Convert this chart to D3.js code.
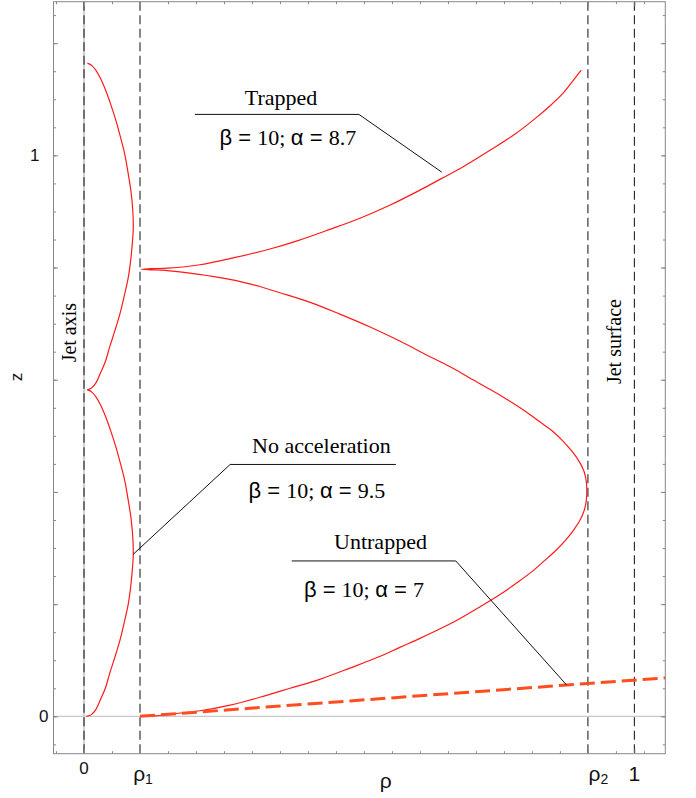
<!DOCTYPE html>
<html>
<head>
<meta charset="utf-8">
<style>
body { margin: 0; background: #fff; }
svg { display: block; }
.serif { font-family: "Liberation Serif", "Times New Roman", serif; }
.sans { font-family: "Liberation Sans", Arial, sans-serif; }
</style>
</head>
<body>
<div id="plot"></div>

<script src="https://d3js.org/d3.v7.min.js"></script>
<script>
// ---- data (rho, z) ----
var xTickVals = [0, 0.1, 0.9, 0.983];
var xTickLabels = ["0", "ρ", "ρ", "1"];
var xTickSubs = ["", "1", "2", ""];
var yTickVals = [0, 1];
var yTickLabels = ["0", "1"];
var yMajorVals = [0, 0.2, 0.4, 0.6, 0.8, 1.0, 1.2];

// dashed guides: jet axis, rho1, rho2, jet surface
var guideRho = [0, 0.1, 0.9, 0.983];

// no acceleration (beta = 10, alpha = 9.5)
var noAccRho = [0.004, 0.009, 0.014, 0.021, 0.029, 0.038, 0.046, 0.055, 0.064, 0.072, 0.079, 0.083, 0.086, 0.088,
  0.087, 0.084, 0.079, 0.073, 0.065, 0.057, 0.048, 0.039, 0.030, 0.021, 0.014, 0.009, 0.006,
  0.009, 0.014, 0.021, 0.029, 0.038, 0.046, 0.055, 0.064, 0.072, 0.079, 0.083, 0.086, 0.088,
  0.087, 0.084, 0.079, 0.073, 0.065, 0.057, 0.048, 0.039, 0.030, 0.021, 0.014, 0.009, 0.006];
var noAccZ = [0, 0.001, 0.004, 0.012, 0.029, 0.050, 0.077, 0.105, 0.135, 0.168, 0.200, 0.228, 0.258, 0.289,
  0.321, 0.353, 0.385, 0.419, 0.451, 0.480, 0.508, 0.533, 0.554, 0.570, 0.578, 0.581, 0.582,
  0.583, 0.586, 0.594, 0.611, 0.632, 0.659, 0.687, 0.717, 0.750, 0.782, 0.810, 0.840, 0.871,
  0.903, 0.935, 0.967, 1.001, 1.033, 1.062, 1.090, 1.115, 1.136, 1.152, 1.160, 1.163, 1.164];

// trapped (beta = 10, alpha = 8.7)
var trapRho = [0.1, 0.127, 0.154, 0.207, 0.261, 0.314, 0.368, 0.421, 0.475, 0.529, 0.564, 0.600, 0.636, 0.671,
  0.707, 0.743, 0.773, 0.800, 0.823, 0.843, 0.861, 0.875, 0.886, 0.893, 0.897, 0.898,
  0.897, 0.893, 0.884, 0.871, 0.855, 0.836, 0.814, 0.788, 0.757, 0.725, 0.689, 0.654, 0.618, 0.564,
  0.511, 0.457, 0.404, 0.350, 0.296, 0.243, 0.189, 0.145, 0.118, 0.102,
  0.118, 0.150, 0.207, 0.270, 0.332, 0.382, 0.439, 0.493, 0.546, 0.600, 0.639, 0.671, 0.725, 0.770,
  0.805, 0.832, 0.854, 0.871, 0.888];
var trapZ = [0, 0.001, 0.004, 0.010, 0.020, 0.034, 0.050, 0.066, 0.086, 0.107, 0.123, 0.139, 0.156, 0.174,
  0.195, 0.217, 0.238, 0.258, 0.278, 0.296, 0.315, 0.333, 0.350, 0.366, 0.384, 0.403,
  0.419, 0.437, 0.455, 0.473, 0.491, 0.509, 0.525, 0.544, 0.564, 0.583, 0.603, 0.623, 0.641, 0.669,
  0.694, 0.717, 0.738, 0.755, 0.771, 0.782, 0.790, 0.795, 0.796, 0.797,
  0.798, 0.799, 0.805, 0.818, 0.833, 0.848, 0.868, 0.888, 0.911, 0.938, 0.959, 0.976, 1.009, 1.038,
  1.065, 1.088, 1.109, 1.130, 1.152];

// untrapped (beta = 10, alpha = 7)
var untrapRho = [0.1, 0.475, 0.862, 1.04];
var untrapZ = [0, 0.0275, 0.0558, 0.0688];

var calloutTitles = ["Trapped", "No acceleration", "Untrapped"];
var calloutBeta = [10, 10, 10];
var calloutAlpha = ["8.7", "9.5", "7"];

// ---- layout ----
var W = 696, H = 798;
var margin = {top: 1.7, left: 53.5, right: 30.7, bottom: 44.3};

var x = d3.scaleLinear().domain([-0.0545, 1.0382]).range([margin.left, W - margin.right]);
var y = d3.scaleLinear().domain([-0.0666, 1.2739]).range([H - margin.bottom, margin.top]);

var svg = d3.select("#plot").append("svg")
  .attr("width", W)
  .attr("height", H)
  .style("background", "white");

svg.append("clipPath").attr("id", "clip")
  .append("rect")
  .attr("x", x.range()[0]).attr("y", y.range()[1])
  .attr("width", x.range()[1] - x.range()[0])
  .attr("height", y.range()[0] - y.range()[1]);

var plot = svg.append("g").attr("clip-path", "url(#clip)");

// light grey origin axes
plot.append("line")
  .attr("x1", x.range()[0]).attr("x2", x.range()[1])
  .attr("y1", y(0)).attr("y2", y(0))
  .attr("stroke", "#c8c8c8").attr("stroke-width", 1.4);
plot.append("line")
  .attr("x1", x(0)).attr("x2", x(0))
  .attr("y1", y.range()[0]).attr("y2", y.range()[1])
  .attr("stroke", "#d0d0d0").attr("stroke-width", 2);

// dashed guides
plot.selectAll(".guide")
  .data(guideRho)
  .enter().append("line")
  .attr("class", "guide")
  .attr("x1", function(d){ return x(d); })
  .attr("x2", function(d){ return x(d); })
  .attr("y1", y.range()[1])
  .attr("y2", y.range()[0])
  .attr("stroke", "#222")
  .attr("stroke-width", 1.1)
  .attr("stroke-dasharray", "9,4.5");

function pairs(a, b){ return d3.range(a.length).map(function(i){ return [a[i], b[i]]; }); }

var curve = d3.line()
  .x(function(d){ return x(d[0]); })
  .y(function(d){ return y(d[1]); })
  .curve(d3.curveCatmullRom.alpha(0.5));

plot.append("path")
  .datum(pairs(noAccRho, noAccZ))
  .attr("d", curve)
  .attr("fill", "none").attr("stroke", "#ff1a1a").attr("stroke-width", 1.2);

plot.append("path")
  .datum(pairs(trapRho, trapZ))
  .attr("d", curve)
  .attr("fill", "none").attr("stroke", "#ff1a1a").attr("stroke-width", 1.2);

plot.append("path")
  .datum(pairs(untrapRho, untrapZ))
  .attr("d", d3.line().x(function(d){ return x(d[0]); }).y(function(d){ return y(d[1]); }))
  .attr("fill", "none").attr("stroke", "#ff4d1f").attr("stroke-width", 3)
  .attr("stroke-dasharray", "15,6");

// ---- frame and ticks ----
var xMinor = d3.range(-0.05, 1.0001, 0.05);
var yMinor = d3.range(-0.05, 1.2501, 0.05);
var x0 = x.range()[0], x1 = x.range()[1], yb = y.range()[0], yt = y.range()[1];

function ticks(gen, pos, vals, len){
  var g = svg.append("g")
    .attr("transform", pos)
    .call(gen.tickValues(vals).tickSizeInner(-len).tickSizeOuter(0).tickFormat(""));
  g.select(".domain").remove();
  g.selectAll(".tick line").attr("stroke", "#888").attr("stroke-width", 1);
}
ticks(d3.axisBottom(x), "translate(0," + yb + ")", xMinor, 2.5);
ticks(d3.axisBottom(x), "translate(0," + yb + ")", xTickVals, 4.5);
ticks(d3.axisTop(x), "translate(0," + yt + ")", xMinor, 2.5);
ticks(d3.axisTop(x), "translate(0," + yt + ")", xTickVals, 4.5);
ticks(d3.axisLeft(y), "translate(" + x0 + ",0)", yMinor, 2.5);
ticks(d3.axisLeft(y), "translate(" + x0 + ",0)", yMajorVals, 4.5);
ticks(d3.axisRight(y), "translate(" + x1 + ",0)", yMinor, 2.5);
ticks(d3.axisRight(y), "translate(" + x1 + ",0)", yMajorVals, 4.5);

svg.append("rect")
  .attr("x", x0).attr("y", yt)
  .attr("width", x1 - x0).attr("height", yb - yt)
  .attr("fill", "none").attr("stroke", "#888").attr("stroke-width", 1);

// tick labels
var xLabelDx = [0, 3, 10.5, 0];
xTickVals.forEach(function(v, i){
  var big = i > 0;
  var t = svg.append("text")
    .attr("class", "sans")
    .attr("x", x(v) + xLabelDx[i])
    .attr("y", big ? 781 : 774)
    .attr("text-anchor", "middle")
    .attr("font-size", big ? 21 : 17)
    .attr("fill", "#111");
  t.append("tspan").text(xTickLabels[i]);
  if (xTickSubs[i]) t.append("tspan").attr("font-size", 14).attr("dy", 3).text(xTickSubs[i]);
});

var yLabelX = [48.5, 39.5];
yTickVals.forEach(function(v, i){
  svg.append("text")
    .attr("class", "sans")
    .attr("x", yLabelX[i])
    .attr("y", y(v) + 6)
    .attr("text-anchor", "end")
    .attr("font-size", 17)
    .attr("fill", "#111")
    .text(yTickLabels[i]);
});

// axis titles
svg.append("text").attr("class", "sans")
  .attr("x", 385.7).attr("y", 788)
  .attr("text-anchor", "middle").attr("font-size", 21).attr("fill", "#111")
  .text("ρ");
svg.append("text").attr("class", "sans")
  .attr("transform", "translate(22," + 377 + ") rotate(-90)")
  .attr("text-anchor", "middle").attr("font-size", 17).attr("fill", "#111")
  .text("z");

// rotated labels on the guides
svg.append("text").attr("class", "serif")
  .attr("transform", "translate(" + x(-0.0143) + "," + y(0.684) + ") rotate(-90)")
  .attr("text-anchor", "middle").attr("font-size", 20)
  .text("Jet axis");
svg.append("text").attr("class", "serif")
  .attr("transform", "translate(" + x(0.959) + "," + y(0.668) + ") rotate(-90)")
  .attr("text-anchor", "middle").attr("font-size", 20)
  .text("Jet surface");

// ---- callouts (positions in data units) ----
var calloutTitlePos = [[0.352, 1.090], [0.424, 0.469], [0.5295, 0.298]];
var calloutParamPos = [[0.364, 1.018], [0.416, 0.389], [0.5, 0.213]];
var calloutLeader = [
  [[0.198, 1.073], [0.491, 1.073], [0.639, 0.970]],
  [[0.557, 0.449], [0.261, 0.449], [0.088, 0.289]],
  [[0.371, 0.277], [0.664, 0.277], [0.862, 0.0558]]
];

var straight = d3.line().x(function(d){ return x(d[0]); }).y(function(d){ return y(d[1]); });

calloutTitles.forEach(function(title, i){
  svg.append("path")
    .attr("d", straight(calloutLeader[i]))
    .attr("fill", "none").attr("stroke", "#111").attr("stroke-width", 1);

  svg.append("text").attr("class", "serif")
    .attr("x", x(calloutTitlePos[i][0])).attr("y", y(calloutTitlePos[i][1]))
    .attr("text-anchor", "middle").attr("font-size", 22)
    .text(title);

  var t = svg.append("text")
    .attr("x", x(calloutParamPos[i][0])).attr("y", y(calloutParamPos[i][1]))
    .attr("text-anchor", "middle").attr("font-size", 22);
  t.append("tspan").attr("class", "sans").text("β = ");
  t.append("tspan").attr("class", "serif").text(calloutBeta[i] + "; ");
  t.append("tspan").attr("class", "sans").text("α = ");
  t.append("tspan").attr("class", "serif").text(calloutAlpha[i]);
});
</script>
</body>
</html>
